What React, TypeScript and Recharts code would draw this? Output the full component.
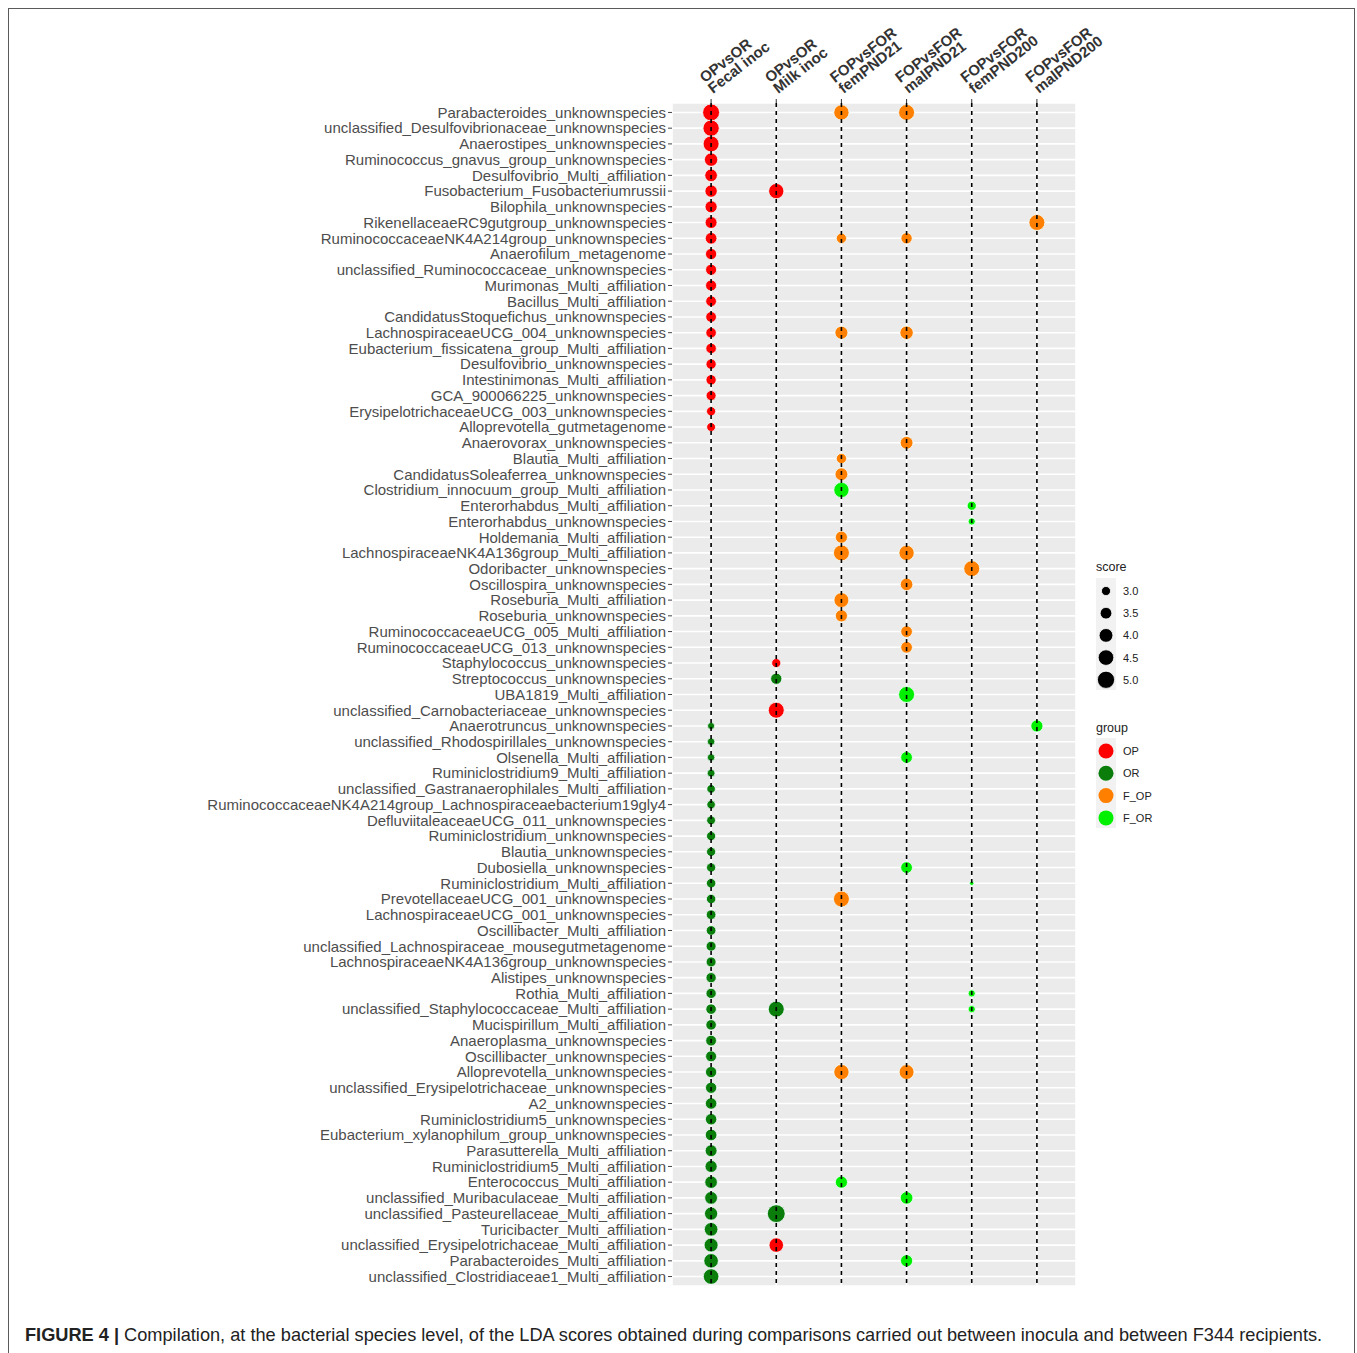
import React from 'react';
import { ScatterChart, Scatter, XAxis, YAxis, ZAxis, CartesianGrid, ReferenceLine } from 'recharts';

const FONT = "'Liberation Sans', Arial, sans-serif";

const species: string[] = [
  'Parabacteroides_unknownspecies',
  'unclassified_Desulfovibrionaceae_unknownspecies',
  'Anaerostipes_unknownspecies',
  'Ruminococcus_gnavus_group_unknownspecies',
  'Desulfovibrio_Multi_affiliation',
  'Fusobacterium_Fusobacteriumrussii',
  'Bilophila_unknownspecies',
  'RikenellaceaeRC9gutgroup_unknownspecies',
  'RuminococcaceaeNK4A214group_unknownspecies',
  'Anaerofilum_metagenome',
  'unclassified_Ruminococcaceae_unknownspecies',
  'Murimonas_Multi_affiliation',
  'Bacillus_Multi_affiliation',
  'CandidatusStoquefichus_unknownspecies',
  'LachnospiraceaeUCG_004_unknownspecies',
  'Eubacterium_fissicatena_group_Multi_affiliation',
  'Desulfovibrio_unknownspecies',
  'Intestinimonas_Multi_affiliation',
  'GCA_900066225_unknownspecies',
  'ErysipelotrichaceaeUCG_003_unknownspecies',
  'Alloprevotella_gutmetagenome',
  'Anaerovorax_unknownspecies',
  'Blautia_Multi_affiliation',
  'CandidatusSoleaferrea_unknownspecies',
  'Clostridium_innocuum_group_Multi_affiliation',
  'Enterorhabdus_Multi_affiliation',
  'Enterorhabdus_unknownspecies',
  'Holdemania_Multi_affiliation',
  'LachnospiraceaeNK4A136group_Multi_affiliation',
  'Odoribacter_unknownspecies',
  'Oscillospira_unknownspecies',
  'Roseburia_Multi_affiliation',
  'Roseburia_unknownspecies',
  'RuminococcaceaeUCG_005_Multi_affiliation',
  'RuminococcaceaeUCG_013_unknownspecies',
  'Staphylococcus_unknownspecies',
  'Streptococcus_unknownspecies',
  'UBA1819_Multi_affiliation',
  'unclassified_Carnobacteriaceae_unknownspecies',
  'Anaerotruncus_unknownspecies',
  'unclassified_Rhodospirillales_unknownspecies',
  'Olsenella_Multi_affiliation',
  'Ruminiclostridium9_Multi_affiliation',
  'unclassified_Gastranaerophilales_Multi_affiliation',
  'RuminococcaceaeNK4A214group_Lachnospiraceaebacterium19gly4',
  'DefluviitaleaceaeUCG_011_unknownspecies',
  'Ruminiclostridium_unknownspecies',
  'Blautia_unknownspecies',
  'Dubosiella_unknownspecies',
  'Ruminiclostridium_Multi_affiliation',
  'PrevotellaceaeUCG_001_unknownspecies',
  'LachnospiraceaeUCG_001_unknownspecies',
  'Oscillibacter_Multi_affiliation',
  'unclassified_Lachnospiraceae_mousegutmetagenome',
  'LachnospiraceaeNK4A136group_unknownspecies',
  'Alistipes_unknownspecies',
  'Rothia_Multi_affiliation',
  'unclassified_Staphylococcaceae_Multi_affiliation',
  'Mucispirillum_Multi_affiliation',
  'Anaeroplasma_unknownspecies',
  'Oscillibacter_unknownspecies',
  'Alloprevotella_unknownspecies',
  'unclassified_Erysipelotrichaceae_unknownspecies',
  'A2_unknownspecies',
  'Ruminiclostridium5_unknownspecies',
  'Eubacterium_xylanophilum_group_unknownspecies',
  'Parasutterella_Multi_affiliation',
  'Ruminiclostridium5_Multi_affiliation',
  'Enterococcus_Multi_affiliation',
  'unclassified_Muribaculaceae_Multi_affiliation',
  'unclassified_Pasteurellaceae_Multi_affiliation',
  'Turicibacter_Multi_affiliation',
  'unclassified_Erysipelotrichaceae_Multi_affiliation',
  'Parabacteroides_Multi_affiliation',
  'unclassified_Clostridiaceae1_Multi_affiliation',
];

const comparisonTop = ['OPvsOR', 'OPvsOR', 'FOPvsFOR', 'FOPvsFOR', 'FOPvsFOR', 'FOPvsFOR'];
const comparisonBottom = ['Fecal inoc', 'Milk inoc', 'femPND21', 'malPND21', 'femPND200', 'malPND200'];
const comparisonIds = [1, 2, 3, 4, 5, 6];

const groups = ['OP', 'OR', 'F_OP', 'F_OR'];
const groupColors: Record<string, string> = {
  OP: '#ff0000',
  OR: '#0a7d0a',
  F_OP: '#ff8000',
  F_OR: '#00f000',
};
const scoreLegend = [3.0, 3.5, 4.0, 4.5, 5.0];
const scoreDomain: [number, number] = [2.4, 5.2];
const sizeRange: [number, number] = [15, 250];

type Entry = [string, string, number];

const fecalInoc: Entry[] = [
  ['Parabacteroides_unknownspecies', 'OP', 4.9],
  ['unclassified_Desulfovibrionaceae_unknownspecies', 'OP', 4.7],
  ['Anaerostipes_unknownspecies', 'OP', 4.6],
  ['Ruminococcus_gnavus_group_unknownspecies', 'OP', 3.9],
  ['Desulfovibrio_Multi_affiliation', 'OP', 3.7],
  ['Fusobacterium_Fusobacteriumrussii', 'OP', 3.65],
  ['Bilophila_unknownspecies', 'OP', 3.6],
  ['RikenellaceaeRC9gutgroup_unknownspecies', 'OP', 3.55],
  ['RuminococcaceaeNK4A214group_unknownspecies', 'OP', 3.5],
  ['Anaerofilum_metagenome', 'OP', 3.4],
  ['unclassified_Ruminococcaceae_unknownspecies', 'OP', 3.35],
  ['Murimonas_Multi_affiliation', 'OP', 3.35],
  ['Bacillus_Multi_affiliation', 'OP', 3.3],
  ['CandidatusStoquefichus_unknownspecies', 'OP', 3.3],
  ['LachnospiraceaeUCG_004_unknownspecies', 'OP', 3.25],
  ['Eubacterium_fissicatena_group_Multi_affiliation', 'OP', 3.25],
  ['Desulfovibrio_unknownspecies', 'OP', 3.2],
  ['Intestinimonas_Multi_affiliation', 'OP', 3.2],
  ['GCA_900066225_unknownspecies', 'OP', 3.15],
  ['ErysipelotrichaceaeUCG_003_unknownspecies', 'OP', 3.0],
  ['Alloprevotella_gutmetagenome', 'OP', 2.95],
  ['Anaerotruncus_unknownspecies', 'OR', 2.7],
  ['unclassified_Rhodospirillales_unknownspecies', 'OR', 2.75],
  ['Olsenella_Multi_affiliation', 'OR', 2.75],
  ['Ruminiclostridium9_Multi_affiliation', 'OR', 2.8],
  ['unclassified_Gastranaerophilales_Multi_affiliation', 'OR', 2.9],
  ['RuminococcaceaeNK4A214group_Lachnospiraceaebacterium19gly4', 'OR', 2.9],
  ['DefluviitaleaceaeUCG_011_unknownspecies', 'OR', 2.95],
  ['Ruminiclostridium_unknownspecies', 'OR', 3.0],
  ['Blautia_unknownspecies', 'OR', 3.0],
  ['Dubosiella_unknownspecies', 'OR', 3.0],
  ['Ruminiclostridium_Multi_affiliation', 'OR', 3.05],
  ['PrevotellaceaeUCG_001_unknownspecies', 'OR', 3.05],
  ['LachnospiraceaeUCG_001_unknownspecies', 'OR', 3.1],
  ['Oscillibacter_Multi_affiliation', 'OR', 3.1],
  ['unclassified_Lachnospiraceae_mousegutmetagenome', 'OR', 3.15],
  ['LachnospiraceaeNK4A136group_unknownspecies', 'OR', 3.15],
  ['Alistipes_unknownspecies', 'OR', 3.2],
  ['Rothia_Multi_affiliation', 'OR', 3.2],
  ['unclassified_Staphylococcaceae_Multi_affiliation', 'OR', 3.25],
  ['Mucispirillum_Multi_affiliation', 'OR', 3.25],
  ['Anaeroplasma_unknownspecies', 'OR', 3.3],
  ['Oscillibacter_unknownspecies', 'OR', 3.35],
  ['Alloprevotella_unknownspecies', 'OR', 3.4],
  ['unclassified_Erysipelotrichaceae_unknownspecies', 'OR', 3.4],
  ['A2_unknownspecies', 'OR', 3.45],
  ['Ruminiclostridium5_unknownspecies', 'OR', 3.45],
  ['Eubacterium_xylanophilum_group_unknownspecies', 'OR', 3.5],
  ['Parasutterella_Multi_affiliation', 'OR', 3.55],
  ['Ruminiclostridium5_Multi_affiliation', 'OR', 3.6],
  ['Enterococcus_Multi_affiliation', 'OR', 3.7],
  ['unclassified_Muribaculaceae_Multi_affiliation', 'OR', 3.75],
  ['unclassified_Pasteurellaceae_Multi_affiliation', 'OR', 3.85],
  ['Turicibacter_Multi_affiliation', 'OR', 3.95],
  ['unclassified_Erysipelotrichaceae_Multi_affiliation', 'OR', 4.05],
  ['Parabacteroides_Multi_affiliation', 'OR', 4.2],
  ['unclassified_Clostridiaceae1_Multi_affiliation', 'OR', 4.5],
];

const milkInoc: Entry[] = [
  ['Fusobacterium_Fusobacteriumrussii', 'OP', 4.4],
  ['Staphylococcus_unknownspecies', 'OP', 3.0],
  ['Streptococcus_unknownspecies', 'OR', 3.4],
  ['unclassified_Carnobacteriaceae_unknownspecies', 'OP', 4.6],
  ['unclassified_Staphylococcaceae_Multi_affiliation', 'OR', 4.6],
  ['unclassified_Pasteurellaceae_Multi_affiliation', 'OR', 5.2],
  ['unclassified_Erysipelotrichaceae_Multi_affiliation', 'OP', 4.2],
];

const femPND21: Entry[] = [
  ['Parabacteroides_unknownspecies', 'F_OP', 4.4],
  ['RuminococcaceaeNK4A214group_unknownspecies', 'F_OP', 3.2],
  ['LachnospiraceaeUCG_004_unknownspecies', 'F_OP', 3.8],
  ['Blautia_Multi_affiliation', 'F_OP', 3.2],
  ['CandidatusSoleaferrea_unknownspecies', 'F_OP', 3.75],
  ['Clostridium_innocuum_group_Multi_affiliation', 'F_OR', 4.4],
  ['Holdemania_Multi_affiliation', 'F_OP', 3.6],
  ['LachnospiraceaeNK4A136group_Multi_affiliation', 'F_OP', 4.6],
  ['Roseburia_Multi_affiliation', 'F_OP', 4.3],
  ['Roseburia_unknownspecies', 'F_OP', 3.6],
  ['PrevotellaceaeUCG_001_unknownspecies', 'F_OP', 4.6],
  ['Alloprevotella_unknownspecies', 'F_OP', 4.4],
  ['Enterococcus_Multi_affiliation', 'F_OR', 3.6],
];

const malPND21: Entry[] = [
  ['Parabacteroides_unknownspecies', 'F_OP', 4.6],
  ['RuminococcaceaeNK4A214group_unknownspecies', 'F_OP', 3.4],
  ['LachnospiraceaeUCG_004_unknownspecies', 'F_OP', 3.9],
  ['Anaerovorax_unknownspecies', 'F_OP', 3.75],
  ['LachnospiraceaeNK4A136group_Multi_affiliation', 'F_OP', 4.4],
  ['Oscillospira_unknownspecies', 'F_OP', 3.7],
  ['RuminococcaceaeUCG_005_Multi_affiliation', 'F_OP', 3.5],
  ['RuminococcaceaeUCG_013_unknownspecies', 'F_OP', 3.5],
  ['UBA1819_Multi_affiliation', 'F_OR', 4.6],
  ['Olsenella_Multi_affiliation', 'F_OR', 3.5],
  ['Dubosiella_unknownspecies', 'F_OR', 3.5],
  ['Alloprevotella_unknownspecies', 'F_OP', 4.3],
  ['unclassified_Muribaculaceae_Multi_affiliation', 'F_OR', 3.7],
  ['Parabacteroides_Multi_affiliation', 'F_OR', 3.6],
];

const femPND200: Entry[] = [
  ['Enterorhabdus_Multi_affiliation', 'F_OR', 3.0],
  ['Enterorhabdus_unknownspecies', 'F_OR', 2.7],
  ['Odoribacter_unknownspecies', 'F_OP', 4.6],
  ['Ruminiclostridium_Multi_affiliation', 'F_OR', 2.4],
  ['Rothia_Multi_affiliation', 'F_OR', 2.7],
  ['unclassified_Staphylococcaceae_Multi_affiliation', 'F_OR', 2.7],
];

const malPND200: Entry[] = [
  ['RikenellaceaeRC9gutgroup_unknownspecies', 'F_OP', 4.6],
  ['Anaerotruncus_unknownspecies', 'F_OR', 3.6],
];

const comparisonData: Entry[][] = [fecalInoc, milkInoc, femPND21, malPND21, femPND200, malPND200];

const points = comparisonData.flatMap((list, c) =>
  list.map(([name, group, score]) => ({
    col: comparisonIds[c],
    row: species.indexOf(name),
    score,
    group,
    name,
  }))
);

const rowTicks = species.map((_, i) => i);

const legendRadius = (v: number) => {
  const area = sizeRange[0] + ((v - scoreDomain[0]) / (scoreDomain[1] - scoreDomain[0])) * (sizeRange[1] - sizeRange[0]);
  return Math.sqrt(area / Math.PI);
};

const XTick = (props: any) => {
  const { x, y, payload } = props;
  const i = comparisonIds.indexOf(payload.value);
  if (i < 0) return null;
  return (
    <g transform={`translate(${x + 2},${y - 3})`}>
      <text transform="rotate(-38)" fontSize={15} fontWeight="bold" fill="#333" fontFamily={FONT}>
        <tspan x={0} y={-13.5}>{comparisonTop[i]}</tspan>
        <tspan x={0} y={0}>{comparisonBottom[i]}</tspan>
      </text>
    </g>
  );
};

const Legend = () => (
  <svg width={120} height={300} style={{ position: 'absolute', left: 1090, top: 550 }}>
    <g fontFamily={FONT}>
      <text x={6} y={21} fontSize={12.5} fill="#222">score</text>
      <rect x={6} y={28} width={20} height={112} fill="#f2f2f2" />
      {scoreLegend.map((v, i) => (
        <g key={v}>
          <circle cx={16} cy={41 + i * 22.2} r={legendRadius(v)} fill="#000" stroke="#fff" strokeWidth={0.8} />
          <text x={33} y={45 + i * 22.2} fontSize={11} fill="#222">{v.toFixed(1)}</text>
        </g>
      ))}
      <text x={6} y={182} fontSize={12.5} fill="#222">group</text>
      <rect x={6} y={188} width={20} height={90} fill="#f2f2f2" />
      {groups.map((g, i) => (
        <g key={g}>
          <circle cx={16} cy={201 + i * 22.3} r={7.5} fill={groupColors[g]} />
          <text x={33} y={205 + i * 22.3} fontSize={11} fill="#222">{g}</text>
        </g>
      ))}
    </g>
  </svg>
);

export default function App() {
  return (
    <div>
      <style>{'body{margin:8px;overflow:hidden;background:#fff}'}</style>
      <div
        style={{
          position: 'absolute',
          left: 8,
          top: 8,
          width: 1347,
          height: 1380,
          border: '1px solid #5a5a5a',
          boxSizing: 'border-box',
        }}
      />
      <div style={{ position: 'absolute', left: 0, top: 0 }}>
        <ScatterChart
          width={1357}
          height={1300}
          margin={{ top: 43, right: 281, bottom: 14, left: 172 }}
        >
          <CartesianGrid fill="#ebebeb" stroke="#ffffff" strokeWidth={1.6} />
          <XAxis
            type="number"
            dataKey="col"
            orientation="top"
            domain={[0.4, 6.6]}
            ticks={comparisonIds}
            interval={0}
            allowDataOverflow
            height={60}
            axisLine={false}
            tickLine={{ stroke: '#333', strokeWidth: 1 }}
            tickSize={4}
            tick={<XTick />}
          />
          <YAxis
            type="number"
            dataKey="row"
            domain={[-0.6, 74.6]}
            reversed
            ticks={rowTicks}
            interval={0}
            allowDataOverflow
            width={500}
            axisLine={false}
            tickLine={{ stroke: '#444', strokeWidth: 1 }}
            tickSize={4}
            tickMargin={2}
            tickFormatter={(v: number) => species[v] ?? ''}
            tick={{ fontSize: 15, fill: '#4d4d4d', fontFamily: FONT }}
          />
          <ZAxis type="number" dataKey="score" domain={scoreDomain} range={sizeRange} />
          {groups.map((g) => (
            <Scatter
              key={g}
              name={g}
              data={points.filter((p) => p.group === g)}
              fill={groupColors[g]}
              stroke="#f4ffff"
              strokeWidth={0.8}
              isAnimationActive={false}
            />
          ))}
          {comparisonIds.map((c) => (
            <ReferenceLine
              key={c}
              x={c}
              stroke="#000"
              strokeWidth={1.6}
              strokeDasharray="4 4"
              zIndex={700}
            />
          ))}
        </ScatterChart>
      </div>
      <Legend />
      <div
        style={{
          position: 'absolute',
          left: 25,
          top: 1325,
          fontFamily: FONT,
          fontSize: 18.2,
          color: '#222',
          whiteSpace: 'nowrap',
        }}
      >
        <b>FIGURE 4 |</b> Compilation, at the bacterial species level, of the LDA scores obtained during comparisons carried out between inocula and between F344 recipients.
      </div>
    </div>
  );
}
